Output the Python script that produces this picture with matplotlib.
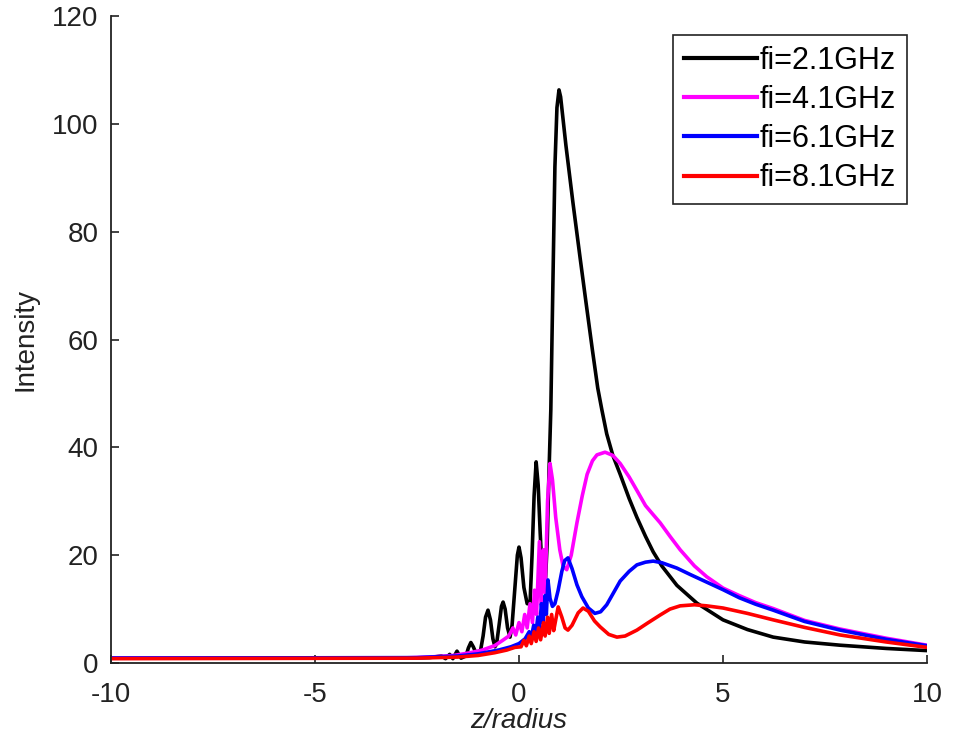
import matplotlib.pyplot as plt
import numpy as np

# values (z/radius, intensity)
black_x = [-10, -3, -2.2, -1.9, -1.8, -1.7, -1.62, -1.52, -1.42, -1.3, -1.24, -1.18, -1.12,
           -1.05, -0.95, -0.88, -0.82, -0.76, -0.7, -0.64, -0.59, -0.55, -0.48, -0.43, -0.39,
           -0.34, -0.28, -0.22, -0.17, -0.1, -0.04, 0.0, 0.05, 0.12, 0.2, 0.27, 0.32, 0.37,
           0.42, 0.47, 0.52, 0.58, 0.64, 0.69, 0.73, 0.78, 0.83, 0.88, 0.93, 0.98, 1.02, 1.15,
           1.32, 1.5, 1.64, 1.8, 1.93, 2.03, 2.15, 2.3, 2.48, 2.7, 2.89, 3.1, 3.29, 3.5, 3.87,
           4.36, 5.0, 5.6, 6.23, 7.0, 7.87, 9.0, 10]
black_y = [0.9, 0.9, 1.0, 1.3, 0.8, 1.6, 0.8, 2.2, 0.9, 1.3, 2.8, 3.8, 3.0,
           1.8, 2.0, 5.0, 8.5, 9.8, 8.0, 4.5, 3.0, 3.5, 7.5, 10.5, 11.3,
           10.0, 6.5, 4.8, 7.0, 14.0, 20.0, 21.5, 19.5, 14.0, 11.0, 11.0, 20.0, 31.0,
           37.3, 33.0, 24.0, 15.0, 14.0, 22.0, 34.0, 47.0, 70.0, 92.0, 103.0, 106.3, 105.0, 96.0,
           85.5, 75.0, 67.0, 58.0, 51.0, 47.0, 42.5, 38.5, 35.0, 30.5, 27.0, 23.5, 20.6, 18.0, 14.4,
           11.1, 8.0, 6.2, 4.8, 3.9, 3.3, 2.7, 2.3]

magenta_x = [-10, -3, -2.2, -1.6, -1.2, -0.9, -0.6, -0.4, -0.25, -0.15, -0.08, 0.0, 0.07,
             0.14, 0.2, 0.27, 0.33, 0.38, 0.43, 0.5, 0.54, 0.6, 0.64, 0.7, 0.76, 0.82, 0.9,
             1.0, 1.08, 1.17, 1.28, 1.42, 1.55, 1.67, 1.8, 1.91, 2.11, 2.3, 2.48, 2.7, 2.89,
             3.1, 3.29, 3.46, 3.7, 3.95, 4.3, 4.6, 5.0, 5.4, 5.8, 6.23, 7.0, 7.87, 9.0, 10]
magenta_y = [0.9, 0.9, 1.1, 1.4, 1.9, 2.4, 3.2, 4.2, 5, 6.5, 5.2, 7.5, 5.8,
             9, 6.5, 11, 7.5, 13.5, 9, 22.5, 11, 21, 13, 30, 37, 34, 27,
             21, 18, 17.3, 20, 26, 31, 35, 37.5, 38.6, 39.1, 38.5, 37, 34.5, 32,
             29.2, 27.5, 26, 23.5, 21, 18, 16, 13.9, 12.5, 11.2, 10.1, 7.9, 6.3, 4.6, 3.3]

blue_x = [-10, -2.5, -1.5, -1, -0.5, -0.2, 0.0, 0.15, 0.25, 0.3, 0.36, 0.41, 0.46, 0.5,
          0.55, 0.59, 0.64, 0.67, 0.71, 0.76, 0.82, 0.88, 0.96, 1.05, 1.12, 1.2, 1.3, 1.42,
          1.54, 1.7, 1.86, 2.0, 2.15, 2.3, 2.48, 2.7, 2.89, 3.1, 3.29, 3.5, 3.87, 4.2, 4.6,
          5.0, 5.4, 5.8, 6.23, 7.0, 7.87, 9.0, 10]
blue_y = [0.9, 1.0, 1.3, 1.7, 2.4, 3.0, 3.6, 4.5, 5.8, 4.6, 7, 5.2, 8.5, 6,
          11, 7.5, 12.5, 9, 15.4, 12, 10.5, 11, 13.5, 17, 19, 19.5, 17.5, 14.5,
          12.3, 10.2, 9.2, 9.5, 10.8, 12.8, 15.2, 17, 18.2, 18.7, 18.9, 18.6, 17.6, 16.4, 15.0,
          13.6, 12.1, 10.9, 9.8, 7.7, 6.1, 4.4, 3.2]

red_x = [-10, -2.5, -1.5, -1.0, -0.6, -0.3, -0.1, 0.05, 0.12, 0.18, 0.25, 0.3, 0.37, 0.42,
         0.48, 0.53, 0.6, 0.64, 0.7, 0.74, 0.8, 0.85, 0.9, 0.96, 1.05, 1.13, 1.2, 1.3, 1.45,
         1.57, 1.7, 1.85, 1.99, 2.2, 2.4, 2.6, 2.89, 3.15, 3.46, 3.7, 3.95, 4.3, 4.6, 5.0,
         5.6, 6.23, 7.0, 7.87, 9.0, 10]
red_y = [0.8, 0.9, 1.1, 1.4, 1.9, 2.4, 2.9, 3.0, 4.2, 3.2, 5, 3.6, 5.8, 4,
         6.5, 4.3, 7.5, 5, 8.5, 5.5, 9, 6, 8, 10.4, 8.5, 6.5, 6.1, 7, 9.3,
         10.2, 9.6, 7.8, 6.7, 5.3, 4.8, 5.0, 6.1, 7.4, 8.9, 10.0, 10.6, 10.8, 10.6, 10.2,
         9.2, 8.0, 6.6, 5.2, 3.9, 2.9]

labels = ['fi=2.1GHz', 'fi=4.1GHz', 'fi=6.1GHz', 'fi=8.1GHz']
colors = ['#000000', '#ff00ff', '#0000ff', '#ff0000']
x_ticks = [-10, -5, 0, 5, 10]
y_ticks = [0, 20, 40, 60, 80, 100, 120]

plt.rcParams['font.family'] = ['Liberation Sans', 'DejaVu Sans']
plt.rcParams['font.size'] = 20
plt.rcParams['axes.unicode_minus'] = False

fig = plt.figure(figsize=(9.55, 7.44), dpi=100)
ax = fig.add_axes([111 / 955, 81 / 744, 816 / 955, 647 / 744])

series = [(black_x, black_y), (magenta_x, magenta_y), (blue_x, blue_y), (red_x, red_y)]
for (xs, ys), lab, col in zip(series, labels, colors):
    ax.plot(xs, ys, color=col, linewidth=2.6, label=lab, solid_joinstyle='round')

ax.set_xlim(-10, 10)
ax.set_ylim(0, 120)
ax.set_xticks(x_ticks)
ax.set_yticks(y_ticks)
ax.tick_params(direction='in', length=6, width=1.2, labelsize=20, colors='#222222')
ax.tick_params(axis='x', pad=14)
ax.tick_params(axis='y', pad=9)
for side in ['top', 'right']:
    ax.spines[side].set_visible(False)
for side in ['left', 'bottom']:
    ax.spines[side].set_linewidth(1.3)
    ax.spines[side].set_color('#222222')

ax.set_xlabel('z/radius', style='italic', fontsize=20, labelpad=0, color='#222222')
ax.set_ylabel('Intensity', fontsize=20, labelpad=10, color='#222222')

leg = ax.legend(loc='upper right', bbox_to_anchor=(907 / 955, 1 - 35 / 744),
                bbox_transform=fig.transFigure, borderaxespad=0, fancybox=False,
                framealpha=1, edgecolor='#222222', fontsize=22, handlelength=2.4,
                handletextpad=0.1, labelspacing=0.3, borderpad=0.35)
leg.get_frame().set_linewidth(1.2)
for line in leg.get_lines():
    line.set_linewidth(3)

fig.savefig('out.png', dpi=100)
